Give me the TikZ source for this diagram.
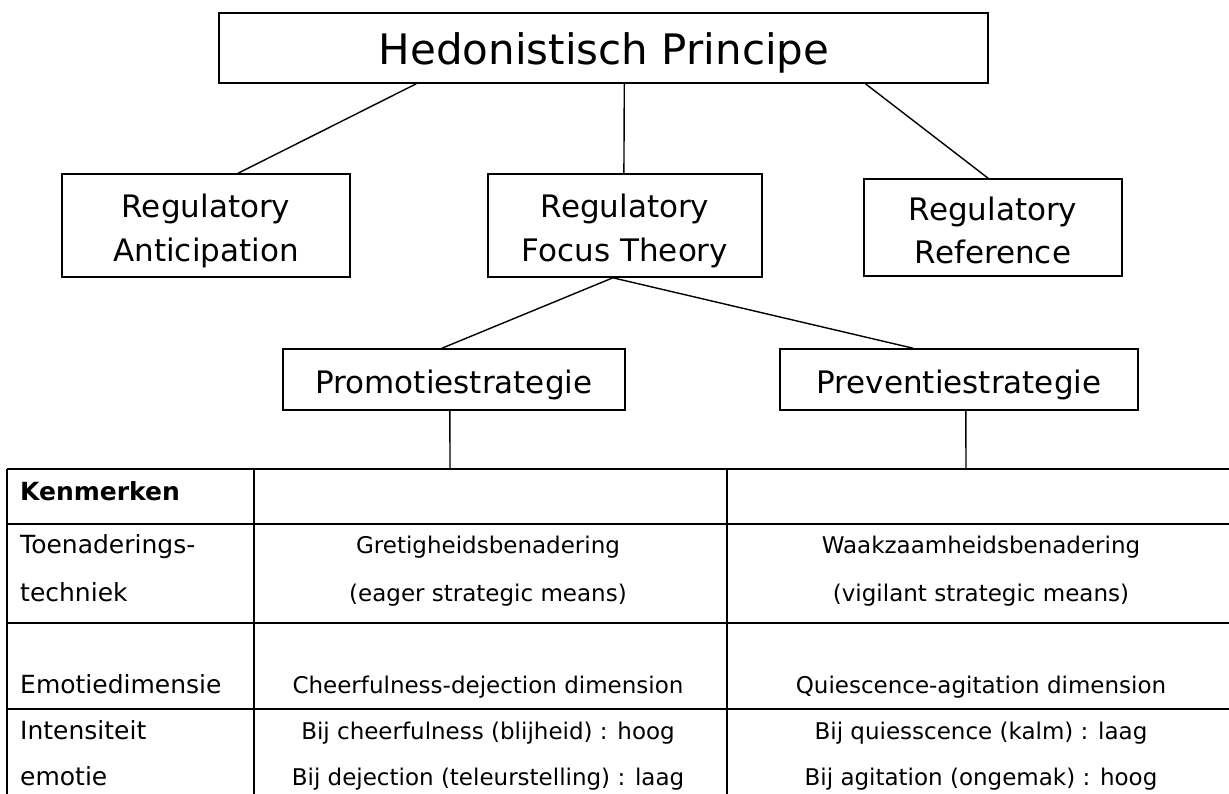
\documentclass[tikz,border=0pt]{standalone}
\usepackage{fontspec}
\setmainfont{DejaVu Sans}
\usetikzlibrary{calc}
\newcommand{\fsz}[1]{\fontsize{#1}{#1}\selectfont}
\begin{document}
\begin{tikzpicture}[x=1pt,y=-1pt,
  box/.style={draw,line width=1.6pt,inner sep=0pt},
  link/.style={line width=1.4pt},
  rule/.style={line width=2.2pt},
  txt/.style={inner sep=0pt,anchor=base},
  cell/.style={txt,font=\fsz{25}},
  mid/.style={txt,font=\fsz{23}}]
\useasboundingbox (0,0) rectangle (1229,794);
\fill[white] (0,0) rectangle (1229,794);

% hierarchy boxes
\node[box,minimum width=769,minimum height=70] (hp) at (603.5,48) {};
\node[txt,font=\fsz{42}] (hpt) at (604,65) {Hedonistisch Principe};

\node[box,minimum width=288,minimum height=103] (ra) at (206,225.5) {};
\node[txt,font=\fsz{31}] (ra1) at (206,218) {Regulatory};
\node[txt,font=\fsz{31}] (ra2) at (206,262) {Anticipation};

\node[box,minimum width=274,minimum height=103] (rf) at (625,225.5) {};
\node[txt,font=\fsz{31}] (rf1) at (625,218) {Regulatory};
\node[txt,font=\fsz{31}] (rf2) at (625,262) {Focus Theory};

\node[box,minimum width=258,minimum height=97] (rr) at (993,227.5) {};
\node[txt,font=\fsz{31}] (rr1) at (993,221) {Regulatory};
\node[txt,font=\fsz{31}] (rr2) at (993,264) {Reference};

\node[box,minimum width=342,minimum height=61] (pm) at (454,379.5) {};
\node[txt,font=\fsz{31}] (pmt) at (454,393) {Promotiestrategie};

\node[box,minimum width=358,minimum height=61] (pv) at (959,379.5) {};
\node[txt,font=\fsz{31}] (pvt) at (959,393) {Preventiestrategie};

% connectors
\draw[link] ($(hp.south west)!0.257!(hp.south east)$) -- ($(ra.north west)!0.611!(ra.north east)$);
\draw[link] ($(hp.south west)!0.527!(hp.south east)$) -- ($(rf.north west)!0.496!(rf.north east)$);
\draw[link] ($(hp.south west)!0.840!(hp.south east)$) -- ($(rr.north west)!0.481!(rr.north east)$);
\draw[link] ($(rf.south west)!0.456!(rf.south east)$) -- ($(pm.north west)!0.465!(pm.north east)$);
\draw[link] ($(rf.south west)!0.456!(rf.south east)$) -- ($(pv.north west)!0.372!(pv.north east)$);

% table frame
\coordinate (tl) at (7,469);
\coordinate (pmT) at (450,469);
\coordinate (pvT) at (966,469);
\draw[link] ($(pm.south west)!0.488!(pm.south east)$) -- (pmT);
\draw[link] ($(pv.south west)!0.519!(pv.south east)$) -- (pvT);

\draw[rule] (7,469) -- (1229,469);
\draw[rule] (7,524) -- (1229,524);
\draw[rule] (7,623) -- (1229,623);
\draw[rule] (7,709) -- (1229,709);
\draw[rule] (tl) -- (7,794);
\draw[rule] (254,469) -- (254,794);
\draw[rule] (727,469) -- (727,794);

% table text
\node[cell,anchor=base west,font=\fsz{25}\bfseries] (k0) at (20,500) {Kenmerken};
\node[cell,anchor=base west] (k1a) at (20,553) {Toenaderings-};
\node[cell,anchor=base west] (k1b) at (20,601) {techniek};
\node[cell,anchor=base west] (k2) at (20,693) {Emotiedimensie};
\node[cell,anchor=base west] (k3a) at (20,739) {Intensiteit};
\node[cell,anchor=base west] (k3b) at (20,785) {emotie};

\node[mid] (p1a) at (488,553) {Gretigheidsbenadering};
\node[mid] (p1b) at (488,601) {(eager strategic means)};
\node[mid] (p2) at (488,693) {Cheerfulness-dejection dimension};
\node[mid] (p3a) at (488,739) {Bij cheerfulness (blijheid) : hoog};
\node[mid] (p3b) at (488,785) {Bij dejection (teleurstelling) : laag};

\node[mid] (v1a) at (981,553) {Waakzaamheidsbenadering};
\node[mid] (v1b) at (981,601) {(vigilant strategic means)};
\node[mid] (v2) at (981,693) {Quiescence-agitation dimension};
\node[mid] (v3a) at (981,739) {Bij quiesscence (kalm) : laag};
\node[mid] (v3b) at (981,785) {Bij agitation (ongemak) : hoog};
\end{tikzpicture}
\end{document}
